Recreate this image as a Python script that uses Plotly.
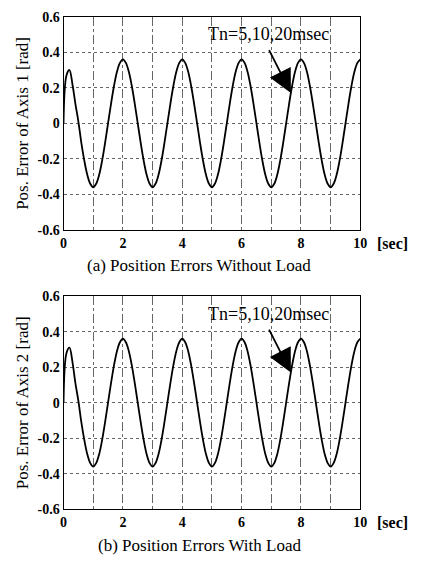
import numpy as np
import plotly.graph_objects as go

# sampling instants [sec]
t = [round(0.1 * i, 1) for i in range(101)]

# one steady cycle, t = 0..2 sec (peak at even seconds)
cycle = [0.36, 0.34, 0.29, 0.21, 0.11, 0.0, -0.11, -0.21, -0.29, -0.34,
         -0.36, -0.34, -0.29, -0.21, -0.11, 0.0, 0.11, 0.21, 0.29, 0.34]

# start-up portion (first 0.5 sec) of each axis
start_axis1 = [0.0, 0.27, 0.30, 0.22, 0.11, 0.01]
start_axis2 = [0.0, 0.28, 0.31, 0.23, 0.11, 0.01]

err_axis1 = start_axis1 + (cycle * 6)[6:6 + 95]
err_axis2 = start_axis2 + (cycle * 6)[6:6 + 95]

x_ticks = list(range(11))
x_text = ["0", "", "2", "", "4", "", "6", "", "8", "", "10"]
y_ticks = [-0.6, -0.4, -0.2, 0, 0.2, 0.4, 0.6]
y_text = ["-0.6", "-0.4", "-0.2", "0", "0.2", "0.4", "0.6"]

W, H = 423, 563
x0, x1 = 62 / W, 366 / W
panels = [(1 - 229 / H, 1 - 10 / H), (1 - 516 / H, 1 - 297 / H)]

FONT = "Liberation Serif"
fig = go.Figure()

series = [err_axis1, err_axis2]
titles = ["Pos. Error of Axis 1 [rad]", "Pos. Error of Axis 2 [rad]"]
captions = ["(a) Position Errors Without Load", "(b) Position Errors With Load"]

for k in range(2):
    xa = "x" if k == 0 else "x2"
    ya = "y" if k == 0 else "y2"
    fig.add_trace(go.Scatter(x=t, y=series[k], mode="lines",
                             line=dict(color="black", width=1.8, shape="spline"),
                             xaxis=xa, yaxis=ya, showlegend=False))
    axis_common = dict(showline=True, linecolor="black", linewidth=1, mirror=True,
                       ticks="", zeroline=False,
                       tickfont=dict(family=FONT, size=14, color="black", weight="bold"))
    xkey = "xaxis" if k == 0 else "xaxis2"
    ykey = "yaxis" if k == 0 else "yaxis2"
    fig.update_layout(**{
        xkey: dict(domain=[x0, x1], range=[0, 10], tickvals=x_ticks, ticktext=x_text,
                   anchor=ya, showgrid=True, gridcolor="#666666", griddash="dashdot",
                   gridwidth=1, **axis_common),
        ykey: dict(domain=list(panels[k]), range=[-0.6, 0.6], tickvals=y_ticks,
                   ticktext=y_text, anchor=xa, showgrid=True, gridcolor="#666666",
                   griddash="dot", gridwidth=1, **axis_common),
    })
    ymid = (panels[k][0] + panels[k][1]) / 2
    fig.add_annotation(x=20 / W, y=ymid, xref="paper", yref="paper",
                       xanchor="center", yanchor="middle",
                       text=titles[k], textangle=-90, showarrow=False,
                       font=dict(family=FONT, size=17, color="black"))
    fig.add_annotation(x=381 / W, y=panels[k][0], xref="paper", yref="paper",
                       text="[sec]", showarrow=False, xanchor="left", yanchor="top",
                       yshift=-3, font=dict(family=FONT, size=16, color="black",
                                            weight="bold"))
    fig.add_annotation(x=201 / W, y=panels[k][0] - 25 / H, xref="paper", yref="paper",
                       text=captions[k], showarrow=False, yanchor="top",
                       font=dict(family=FONT, size=17, color="black"))
    fig.add_annotation(x=7.66, y=0.17, xref=xa, yref=ya,
                       ax=6.9, ay=0.42, axref=xa, ayref=ya,
                       showarrow=True, arrowhead=2, arrowsize=2.6, arrowwidth=1.8,
                       arrowcolor="black", text="")
    fig.add_annotation(x=6.9, y=0.5, xref=xa, yref=ya, text="Tn=5,10,20msec",
                       showarrow=False,
                       font=dict(family=FONT, size=18, color="black"))

fig.update_layout(width=W, height=H, margin=dict(l=0, r=0, t=0, b=0),
                  plot_bgcolor="white", paper_bgcolor="white")

fig.write_html("out.html")
